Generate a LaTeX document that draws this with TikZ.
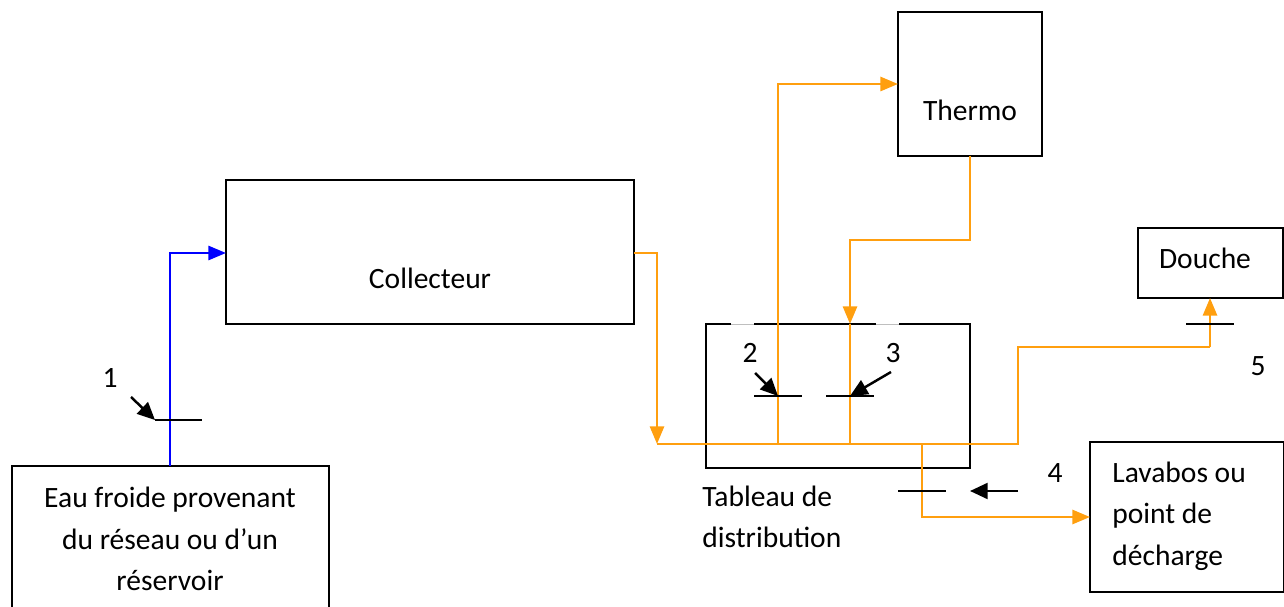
\documentclass[tikz,border=0pt]{standalone}
\usepackage{fontspec}
\setmainfont{Carlito}
\usetikzlibrary{arrows.meta}
\definecolor{pipe}{RGB}{255,159,15}
\definecolor{cold}{RGB}{0,0,255}
\begin{document}
\begin{tikzpicture}[x=0.02cm,y=-0.02cm,
  box/.style={draw=black,line width=1.5pt,inner sep=0pt,outer sep=0pt},
  lbl/.style={inner sep=0pt,font=\fontsize{16.8}{23.5}\selectfont},
  hot/.style={draw=pipe,line width=1.4pt},
  hotarrow/.style={hot,-{Triangle[length=10pt,width=8pt]}},
  coldarrow/.style={draw=cold,line width=1.4pt,-{Triangle[length=10pt,width=8pt]}},
  valve/.style={draw=black,line width=1.4pt},
  pointer/.style={draw=black,line width=1.4pt,-{Triangle[length=10pt,width=9pt]}}]
\useasboundingbox (0,0) rectangle (1284,607);
% boxes
\node[box,minimum width=317*0.02cm,minimum height=144*0.02cm] (eau) at (170.5,538) {};
\node[box,minimum width=408*0.02cm,minimum height=144*0.02cm] (coll) at (430,252) {};
\node[box,minimum width=144*0.02cm,minimum height=144*0.02cm] (thermo) at (970,84) {};
\node[box,minimum width=145*0.02cm,minimum height=70*0.02cm] (douche) at (1210.5,263) {};
\node[box,minimum width=264*0.02cm,minimum height=144*0.02cm] (tab) at (838,396) {};
\node[box,minimum width=194*0.02cm,minimum height=150*0.02cm] (lav) at (1187,517) {};
% gaps in top of tableau
\draw[white,line width=1.8pt] (731,324) -- (754,324) (876,324) -- (899,324);
\draw[black!25,line width=0.4pt] (731,324) -- (754,324) (876,324) -- (899,324);
% texts
\node[lbl,align=center] (teau) at (170,539) {Eau froide provenant\\du réseau ou d’un\\réservoir};
\node[lbl] (tcoll) at (430,278) {Collecteur};
\node[lbl] (tthermo) at (970,110) {Thermo};
\node[lbl] (tdouche) at (1205,258) {Douche};
\node[lbl,align=left,anchor=west] (ttab) at (702,517) {Tableau de\\distribution};
\node[lbl,align=left,anchor=west] (tlav) at (1112,516) {Lavabos ou\\point de\\décharge};
\node[lbl] (n1) at (110,378) {1};
\node[lbl] (n2) at (750,353) {2};
\node[lbl] (n3) at (893,353) {3};
\node[lbl] (n4) at (1055,473) {4};
\node[lbl] (n5) at (1258,366) {5};
% coordinates
\coordinate (c1) at (170,253);
\coordinate (o1) at (657,253);
\coordinate (o2) at (657,444);
\coordinate (j1) at (778,444);
\coordinate (j1t) at (778,84);
\coordinate (t1) at (970,240);
\coordinate (t2) at (850,240);
\coordinate (j2) at (850,444);
\coordinate (j3) at (922,444);
\coordinate (j3b) at (922,517);
\coordinate (r1) at (1018,444);
\coordinate (r2) at (1018,347);
\coordinate (r3) at (1210,347);
% cold pipe
\draw[coldarrow] (eau.north -| c1) -- (c1) -- (coll.west |- c1);
% hot pipes
\draw[hotarrow] (coll.east |- o1) -- (o1) -- (o2);
\draw[hot] (o2) -- (r1) -- (r2) -- (r3);
\draw[hotarrow] (r3) -- (r3 |- douche.south);
\draw[hotarrow] (j1) -- (j1t) -- (thermo.west |- j1t);
\draw[hotarrow] (thermo.south) -- (t1) -- (t2) -- (t2 |- tab.north);
\draw[hot] (t2 |- tab.north) -- (j2);
\draw[hotarrow] (j3) -- (j3b) -- (lav.west |- j3b);
% valves
\coordinate (v1) at (155,420);
\coordinate (v2) at (778,396);
\coordinate (v3) at (850,396);
\coordinate (v4) at (970,491);
\draw[valve] (v1) -- (202,420);
\draw[pointer] (131,397) -- (v1);
\draw[valve] (754,396) -- (802,396);
\draw[pointer] (755,373) -- (v2);
\draw[valve] (826,396) -- (874,396);
\draw[pointer] (891,372) -- (v3);
\draw[valve] (898,491) -- (946,491);
\draw[pointer] (1018,491) -- (v4);
\draw[valve] (1186,324) -- (1234,324);
\end{tikzpicture}
\end{document}
